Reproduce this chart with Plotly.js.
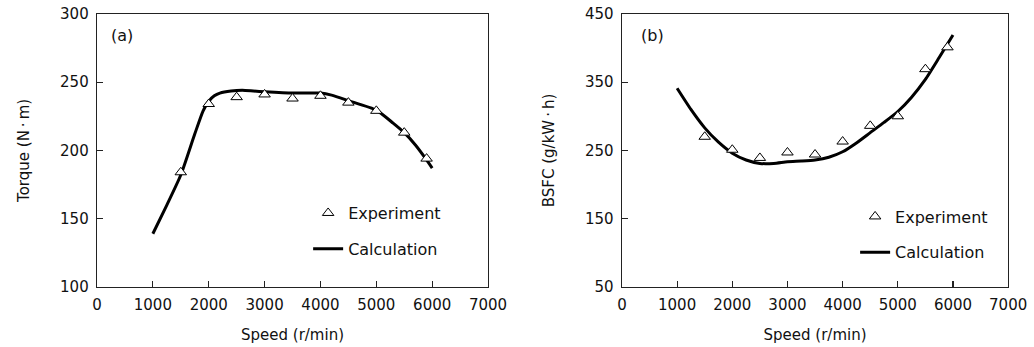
<!DOCTYPE html>
<html>
<head>
<meta charset="utf-8">
<script src="https://cdn.plot.ly/plotly-3.0.1.min.js"></script>
<style>html,body{margin:0;padding:0;background:#fff;}#chart{width:1034px;height:347px;}</style>
</head>
<body>
<div id="chart"></div>
<script>
// Panel (a) torque
const expSpeedA = [1500, 2000, 2500, 3000, 3500, 4000, 4500, 5000, 5500, 5900];
const expTorque = [184, 234, 239, 241, 238, 240, 235, 229, 213, 194];
const calcSpeedA = [1000, 1250, 1500, 1750, 1900, 2000, 2100, 2200, 2400, 2600, 2800, 3000, 3500, 4000, 4200, 4500, 5000, 5300, 5500, 5700, 5900, 6000];
const calcTorque = [139, 160, 182, 212, 229, 236, 240, 242, 243.5, 244, 243.5, 243, 242, 242, 240.5, 236.5, 229.5, 220, 213, 204, 193, 187];

// Panel (b) BSFC
const expSpeedB = [1500, 2000, 2500, 3000, 3500, 4000, 4500, 5000, 5500, 5900];
const expBSFC = [270, 251, 239, 247, 244, 263, 286, 300, 369, 401];
const calcSpeedB = [1000, 1250, 1500, 1750, 2000, 2250, 2500, 2750, 3000, 3250, 3500, 3750, 4000, 4250, 4500, 4750, 5000, 5250, 5500, 5750, 6000];
const calcBSFC = [341, 310, 283, 262, 246, 236, 231, 231, 233.5, 234.5, 236, 240, 248, 261, 276, 291, 307, 328, 354, 386, 419];

const xTicks = [0, 1000, 2000, 3000, 4000, 5000, 6000, 7000];
const yTicksA = [100, 150, 200, 250, 300];
const yTicksB = [50, 150, 250, 350, 450];

const FONT = 'DejaVu Sans, Liberation Sans, Arial, sans-serif';
const expMarker = {symbol: 'triangle-up', size: 10, color: '#ffffff', line: {color: '#000000', width: 1}};
const calcLine = {color: '#000000', width: 3, shape: 'spline', smoothing: 0.6};

const traces = [
  {x: calcSpeedA, y: calcTorque, type: 'scatter', mode: 'lines', name: 'Calculation', line: calcLine, xaxis: 'x', yaxis: 'y', legend: 'legend', legendgroup: 'a2', legendrank: 2},
  {x: expSpeedA, y: expTorque, type: 'scatter', mode: 'markers', name: 'Experiment', marker: expMarker, xaxis: 'x', yaxis: 'y', legend: 'legend', legendgroup: 'a1', legendrank: 1},
  {x: calcSpeedB, y: calcBSFC, type: 'scatter', mode: 'lines', name: 'Calculation', line: calcLine, xaxis: 'x2', yaxis: 'y2', legend: 'legend2', legendgroup: 'b2', legendrank: 2},
  {x: expSpeedB, y: expBSFC, type: 'scatter', mode: 'markers', name: 'Experiment', marker: expMarker, xaxis: 'x2', yaxis: 'y2', legend: 'legend2', legendgroup: 'b1', legendrank: 1}
];

function xAxis(anchor, domain) {
  return {
    domain: domain, anchor: anchor, range: [0, 7000], tickvals: xTicks, ticktext: xTicks.map(String),
    ticks: 'inside', ticklen: 6, tickwidth: 1.2, tickcolor: '#222', showline: true, linecolor: '#222', linewidth: 1.3,
    mirror: true, showgrid: false, zeroline: false, ticklabelstandoff: 4,
    tickfont: {family: FONT, size: 15, color: '#111'},
    title: {text: 'Speed (r/min)', font: {family: FONT, size: 15, color: '#111'}, standoff: 16}
  };
}
function yAxis(anchor, range, ticks, title) {
  return {
    domain: [0.173, 0.96], anchor: anchor, range: range, tickvals: ticks, ticktext: ticks.map(String),
    ticks: 'inside', ticklen: 6, tickwidth: 1.2, tickcolor: '#222', showline: true, linecolor: '#222', linewidth: 1.3,
    mirror: true, showgrid: false, zeroline: false, ticklabelstandoff: 4,
    tickfont: {family: FONT, size: 15, color: '#111'},
    title: {text: title, font: {family: FONT, size: 15, color: '#111'}, standoff: 26}
  };
}

const legendBase = {
  font: {family: FONT, size: 16, color: '#111'}, bgcolor: 'rgba(0,0,0,0)', borderwidth: 0,
  traceorder: 'grouped', tracegroupgap: 12, xanchor: 'left', yanchor: 'top', itemwidth: 30
};

const layout = {
  width: 1034, height: 347,
  margin: {l: 0, r: 0, t: 0, b: 0},
  paper_bgcolor: '#fff', plot_bgcolor: '#fff',
  showlegend: true,
  font: {family: FONT, color: '#111'},
  xaxis: xAxis('y', [0.0938, 0.472]),
  yaxis: yAxis('x', [100, 300], yTicksA, 'Torque (N\u2009·\u2009m)'),
  xaxis2: xAxis('y2', [0.6015, 0.975]),
  yaxis2: yAxis('x2', [50, 450], yTicksB, 'BSFC (g/kW\u2009·\u2009h)'),
  legend: Object.assign({}, legendBase, {x: 0.298, y: 0.435}),
  legend2: Object.assign({}, legendBase, {x: 0.827, y: 0.425}),
  annotations: [
    {text: '(a)', xref: 'x domain', yref: 'y domain', x: 0.03, y: 0.92, xanchor: 'left', yanchor: 'middle', showarrow: false, font: {family: FONT, size: 16, color: '#111'}},
    {text: '(b)', xref: 'x2 domain', yref: 'y2 domain', x: 0.045, y: 0.92, xanchor: 'left', yanchor: 'middle', showarrow: false, font: {family: FONT, size: 16, color: '#111'}}
  ]
};

Plotly.newPlot('chart', traces, layout, {displayModeBar: false, staticPlot: true});
</script>
</body>
</html>
